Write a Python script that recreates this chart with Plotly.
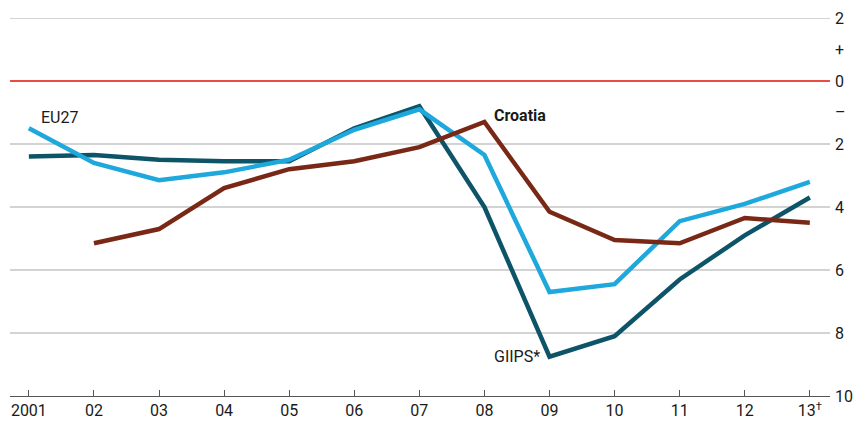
import plotly.graph_objects as go

years = list(range(2001, 2014))
x_labels = ["2001", "02", "03", "04", "05", "06", "07", "08", "09", "10", "11", "12", "13<sup>†</sup>"]

giips = [-2.4, -2.35, -2.5, -2.55, -2.55, -1.5, -0.8, -4.0, -8.75, -8.1, -6.3, -4.9, -3.7]
eu27 = [-1.5, -2.6, -3.15, -2.9, -2.5, -1.55, -0.9, -2.35, -6.7, -6.45, -4.45, -3.9, -3.2]
croatia_years = list(range(2002, 2014))
croatia = [-5.15, -4.7, -3.4, -2.8, -2.55, -2.1, -1.3, -4.15, -5.05, -5.15, -4.35, -4.5]

y_ticks = [2, 1, 0, -1, -2, -4, -6, -8, -10]
y_labels = ["2", "+", "0", "–", "2", "4", "6", "8", "10"]
grid_vals = [2, -2, -4, -6, -8]

FONT = "Roboto"
fig = go.Figure()

fig.add_trace(go.Scatter(x=years, y=giips, mode="lines", line=dict(color="#0d5468", width=4.5), name="GIIPS*"))
fig.add_trace(go.Scatter(x=years, y=eu27, mode="lines", line=dict(color="#1ea8dc", width=4.5), name="EU27"))
fig.add_trace(go.Scatter(x=croatia_years, y=croatia, mode="lines", line=dict(color="#7a2816", width=4.5), name="Croatia"))

for g in grid_vals:
    fig.add_shape(type="line", xref="paper", yref="y", x0=0, x1=1, y0=g, y1=g,
                  line=dict(color="#c4c4c4", width=1.5), layer="below")
fig.add_shape(type="line", xref="paper", yref="y", x0=0, x1=1, y0=0, y1=0,
              line=dict(color="#e3120b", width=1.5), layer="below")

fig.add_annotation(x=2001.15, y=-1.17, text="EU27", showarrow=False, xanchor="left",
                   font=dict(family=FONT, size=16, color="#1a1a1a"))
fig.add_annotation(x=2008.12, y=-1.1, text="<b>Croatia</b>", showarrow=False, xanchor="left",
                   font=dict(family=FONT, size=16, color="#1a1a1a"))
fig.add_annotation(x=2008.88, y=-8.75, text="GIIPS*", showarrow=False, xanchor="right",
                   font=dict(family=FONT, size=16, color="#1a1a1a"))

fig.update_layout(
    width=855, height=428,
    margin=dict(l=10, r=25, t=18, b=32),
    plot_bgcolor="white", paper_bgcolor="white",
    showlegend=False,
    font=dict(family=FONT, size=16, color="#1a1a1a"),
    xaxis=dict(range=[2000.71, 2013.31], tickvals=years, ticktext=x_labels,
               showgrid=False, zeroline=False, showline=True, linecolor="#555555", linewidth=1.2,
               ticks="inside", ticklen=6, tickcolor="#555555", tickwidth=1, automargin=False,
               tickfont=dict(family=FONT, size=16, color="#1a1a1a")),
    yaxis=dict(range=[-10, 2], side="right", tickvals=y_ticks, ticktext=y_labels,
               showgrid=False, zeroline=False, showline=False, ticks="",
               ticklabelstandoff=4, automargin=False,
               tickfont=dict(family=FONT, size=16, color="#1a1a1a")),
)

fig.write_html("out.html", config={"displayModeBar": False},
               post_script="document.body.style.margin='0';document.body.style.padding='0';")
